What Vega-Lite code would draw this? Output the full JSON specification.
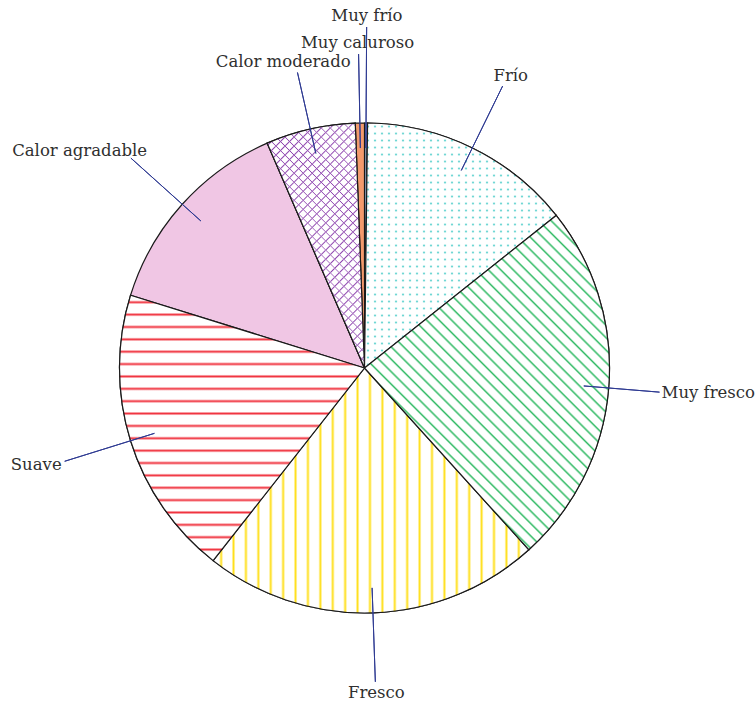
{
  "$schema": "https://vega.github.io/schema/vega-lite/v6.json",
  "autosize": "none",
  "padding": {"left": 0, "top": 35, "right": 26, "bottom": 0},
  "width": 729,
  "height": 666,
  "background": "white",
  "config": {"view": {"stroke": null}},
  "data": {
    "values": [
      {"category": "Muy frío", "value": 0.2},
      {"category": "Frío", "value": 14.1},
      {"category": "Muy fresco", "value": 24.0},
      {"category": "Fresco", "value": 22.3},
      {"category": "Suave", "value": 19.2},
      {"category": "Calor agradable", "value": 13.7},
      {"category": "Calor moderado", "value": 5.9},
      {"category": "Muy caluroso", "value": 0.6}
    ]
  },
  "transform": [
    {"stack": "value", "groupby": [], "as": ["start", "end"], "offset": "normalize"},
    {"calculate": "(datum.start + datum.end) / 2", "as": "mid"}
  ],
  "layer": [
    {
      "mark": {"type": "arc", "radius": 245, "stroke": "#1a1a1a", "strokeWidth": 1.2},
      "encoding": {
        "theta": {"field": "start", "type": "quantitative", "scale": {"domain": [0, 1], "range": [0, 6.283185307179586]}},
        "theta2": {"field": "end"},
        "color": {
          "field": "category",
          "type": "nominal",
          "legend": null,
          "scale": {
            "domain": ["Muy frío", "Frío", "Muy fresco", "Fresco", "Suave", "Calor agradable", "Calor moderado", "Muy caluroso"],
            "range": ["#93a6c4", "#ffffff", "#ffffff", "#ffffff", "#ffffff", "#f0c6e4", "#ffffff", "#f39a6c"]
          }
        }
      }
    },
    {
      "transform": [{"filter": "datum.category === 'Frío'"}],
      "mark": {
        "type": "arc", "radius": 245, "strokeWidth": 0,
        "fill": {"gradient": "linear", "x1": 0, "y1": 0, "x2": 0, "y2": 1, "stops": [
          {"offset": 0, "color": "#ffffff"},
          {"offset": 0.0078, "color": "#ffffff"}, {"offset": 0.0143, "color": "#2ec4c0"}, {"offset": 0.0208, "color": "#ffffff"},
          {"offset": 0.0364, "color": "#ffffff"}, {"offset": 0.0429, "color": "#2ec4c0"}, {"offset": 0.0494, "color": "#ffffff"},
          {"offset": 0.0649, "color": "#ffffff"}, {"offset": 0.0714, "color": "#2ec4c0"}, {"offset": 0.0779, "color": "#ffffff"},
          {"offset": 0.0935, "color": "#ffffff"}, {"offset": 0.1000, "color": "#2ec4c0"}, {"offset": 0.1065, "color": "#ffffff"},
          {"offset": 0.1221, "color": "#ffffff"}, {"offset": 0.1286, "color": "#2ec4c0"}, {"offset": 0.1351, "color": "#ffffff"},
          {"offset": 0.1507, "color": "#ffffff"}, {"offset": 0.1572, "color": "#2ec4c0"}, {"offset": 0.1637, "color": "#ffffff"},
          {"offset": 0.1792, "color": "#ffffff"}, {"offset": 0.1857, "color": "#2ec4c0"}, {"offset": 0.1922, "color": "#ffffff"},
          {"offset": 0.2078, "color": "#ffffff"}, {"offset": 0.2143, "color": "#2ec4c0"}, {"offset": 0.2208, "color": "#ffffff"},
          {"offset": 0.2364, "color": "#ffffff"}, {"offset": 0.2429, "color": "#2ec4c0"}, {"offset": 0.2494, "color": "#ffffff"},
          {"offset": 0.2649, "color": "#ffffff"}, {"offset": 0.2714, "color": "#2ec4c0"}, {"offset": 0.2779, "color": "#ffffff"},
          {"offset": 0.2935, "color": "#ffffff"}, {"offset": 0.3000, "color": "#2ec4c0"}, {"offset": 0.3065, "color": "#ffffff"},
          {"offset": 0.3221, "color": "#ffffff"}, {"offset": 0.3286, "color": "#2ec4c0"}, {"offset": 0.3351, "color": "#ffffff"},
          {"offset": 0.3507, "color": "#ffffff"}, {"offset": 0.3572, "color": "#2ec4c0"}, {"offset": 0.3637, "color": "#ffffff"},
          {"offset": 0.3792, "color": "#ffffff"}, {"offset": 0.3857, "color": "#2ec4c0"}, {"offset": 0.3922, "color": "#ffffff"},
          {"offset": 0.4078, "color": "#ffffff"}, {"offset": 0.4143, "color": "#2ec4c0"}, {"offset": 0.4208, "color": "#ffffff"},
          {"offset": 0.4364, "color": "#ffffff"}, {"offset": 0.4429, "color": "#2ec4c0"}, {"offset": 0.4494, "color": "#ffffff"},
          {"offset": 0.4649, "color": "#ffffff"}, {"offset": 0.4714, "color": "#2ec4c0"}, {"offset": 0.4779, "color": "#ffffff"},
          {"offset": 0.4935, "color": "#ffffff"}, {"offset": 0.5000, "color": "#2ec4c0"}, {"offset": 0.5065, "color": "#ffffff"},
          {"offset": 0.5221, "color": "#ffffff"}, {"offset": 0.5286, "color": "#2ec4c0"}, {"offset": 0.5351, "color": "#ffffff"},
          {"offset": 0.5506, "color": "#ffffff"}, {"offset": 0.5571, "color": "#2ec4c0"}, {"offset": 0.5636, "color": "#ffffff"},
          {"offset": 0.5792, "color": "#ffffff"}, {"offset": 0.5857, "color": "#2ec4c0"}, {"offset": 0.5922, "color": "#ffffff"},
          {"offset": 0.6078, "color": "#ffffff"}, {"offset": 0.6143, "color": "#2ec4c0"}, {"offset": 0.6208, "color": "#ffffff"},
          {"offset": 0.6364, "color": "#ffffff"}, {"offset": 0.6429, "color": "#2ec4c0"}, {"offset": 0.6494, "color": "#ffffff"},
          {"offset": 0.6649, "color": "#ffffff"}, {"offset": 0.6714, "color": "#2ec4c0"}, {"offset": 0.6779, "color": "#ffffff"},
          {"offset": 0.6935, "color": "#ffffff"}, {"offset": 0.7000, "color": "#2ec4c0"}, {"offset": 0.7065, "color": "#ffffff"},
          {"offset": 0.7221, "color": "#ffffff"}, {"offset": 0.7286, "color": "#2ec4c0"}, {"offset": 0.7351, "color": "#ffffff"},
          {"offset": 0.7506, "color": "#ffffff"}, {"offset": 0.7571, "color": "#2ec4c0"}, {"offset": 0.7636, "color": "#ffffff"},
          {"offset": 0.7792, "color": "#ffffff"}, {"offset": 0.7857, "color": "#2ec4c0"}, {"offset": 0.7922, "color": "#ffffff"},
          {"offset": 0.8078, "color": "#ffffff"}, {"offset": 0.8143, "color": "#2ec4c0"}, {"offset": 0.8208, "color": "#ffffff"},
          {"offset": 0.8364, "color": "#ffffff"}, {"offset": 0.8429, "color": "#2ec4c0"}, {"offset": 0.8494, "color": "#ffffff"},
          {"offset": 0.8649, "color": "#ffffff"}, {"offset": 0.8714, "color": "#2ec4c0"}, {"offset": 0.8779, "color": "#ffffff"},
          {"offset": 0.8935, "color": "#ffffff"}, {"offset": 0.9000, "color": "#2ec4c0"}, {"offset": 0.9065, "color": "#ffffff"},
          {"offset": 0.9221, "color": "#ffffff"}, {"offset": 0.9286, "color": "#2ec4c0"}, {"offset": 0.9351, "color": "#ffffff"},
          {"offset": 0.9506, "color": "#ffffff"}, {"offset": 0.9571, "color": "#2ec4c0"}, {"offset": 0.9636, "color": "#ffffff"},
          {"offset": 0.9792, "color": "#ffffff"}, {"offset": 0.9857, "color": "#2ec4c0"}, {"offset": 0.9922, "color": "#ffffff"},
          {"offset": 1, "color": "#ffffff"}
        ]}
      },
      "encoding": {
        "theta": {"field": "start", "type": "quantitative", "scale": {"domain": [0, 1], "range": [0, 6.283185307179586]}},
        "theta2": {"field": "end"}
      }
    },
    {
      "transform": [{"filter": "datum.category === 'Frío'"}],
      "mark": {
        "type": "arc", "radius": 245, "stroke": "#1a1a1a", "strokeWidth": 1.2,
        "fill": {"gradient": "linear", "x1": 0, "y1": 0, "x2": 1, "y2": 0, "stops": [
          {"offset": 0, "color": "#ffffff"},
          {"offset": 0.0100, "color": "#ffffff"}, {"offset": 0.0183, "color": "rgba(255,255,255,0)"}, {"offset": 0.0266, "color": "#ffffff"},
          {"offset": 0.0465, "color": "#ffffff"}, {"offset": 0.0548, "color": "rgba(255,255,255,0)"}, {"offset": 0.0631, "color": "#ffffff"},
          {"offset": 0.0830, "color": "#ffffff"}, {"offset": 0.0913, "color": "rgba(255,255,255,0)"}, {"offset": 0.0996, "color": "#ffffff"},
          {"offset": 0.1195, "color": "#ffffff"}, {"offset": 0.1278, "color": "rgba(255,255,255,0)"}, {"offset": 0.1361, "color": "#ffffff"},
          {"offset": 0.1561, "color": "#ffffff"}, {"offset": 0.1644, "color": "rgba(255,255,255,0)"}, {"offset": 0.1727, "color": "#ffffff"},
          {"offset": 0.1926, "color": "#ffffff"}, {"offset": 0.2009, "color": "rgba(255,255,255,0)"}, {"offset": 0.2092, "color": "#ffffff"},
          {"offset": 0.2291, "color": "#ffffff"}, {"offset": 0.2374, "color": "rgba(255,255,255,0)"}, {"offset": 0.2457, "color": "#ffffff"},
          {"offset": 0.2656, "color": "#ffffff"}, {"offset": 0.2739, "color": "rgba(255,255,255,0)"}, {"offset": 0.2822, "color": "#ffffff"},
          {"offset": 0.3021, "color": "#ffffff"}, {"offset": 0.3104, "color": "rgba(255,255,255,0)"}, {"offset": 0.3187, "color": "#ffffff"},
          {"offset": 0.3386, "color": "#ffffff"}, {"offset": 0.3469, "color": "rgba(255,255,255,0)"}, {"offset": 0.3552, "color": "#ffffff"},
          {"offset": 0.3752, "color": "#ffffff"}, {"offset": 0.3835, "color": "rgba(255,255,255,0)"}, {"offset": 0.3918, "color": "#ffffff"},
          {"offset": 0.4117, "color": "#ffffff"}, {"offset": 0.4200, "color": "rgba(255,255,255,0)"}, {"offset": 0.4283, "color": "#ffffff"},
          {"offset": 0.4482, "color": "#ffffff"}, {"offset": 0.4565, "color": "rgba(255,255,255,0)"}, {"offset": 0.4648, "color": "#ffffff"},
          {"offset": 0.4847, "color": "#ffffff"}, {"offset": 0.4930, "color": "rgba(255,255,255,0)"}, {"offset": 0.5013, "color": "#ffffff"},
          {"offset": 0.5212, "color": "#ffffff"}, {"offset": 0.5295, "color": "rgba(255,255,255,0)"}, {"offset": 0.5378, "color": "#ffffff"},
          {"offset": 0.5577, "color": "#ffffff"}, {"offset": 0.5660, "color": "rgba(255,255,255,0)"}, {"offset": 0.5743, "color": "#ffffff"},
          {"offset": 0.5942, "color": "#ffffff"}, {"offset": 0.6025, "color": "rgba(255,255,255,0)"}, {"offset": 0.6108, "color": "#ffffff"},
          {"offset": 0.6308, "color": "#ffffff"}, {"offset": 0.6391, "color": "rgba(255,255,255,0)"}, {"offset": 0.6474, "color": "#ffffff"},
          {"offset": 0.6673, "color": "#ffffff"}, {"offset": 0.6756, "color": "rgba(255,255,255,0)"}, {"offset": 0.6839, "color": "#ffffff"},
          {"offset": 0.7038, "color": "#ffffff"}, {"offset": 0.7121, "color": "rgba(255,255,255,0)"}, {"offset": 0.7204, "color": "#ffffff"},
          {"offset": 0.7403, "color": "#ffffff"}, {"offset": 0.7486, "color": "rgba(255,255,255,0)"}, {"offset": 0.7569, "color": "#ffffff"},
          {"offset": 0.7768, "color": "#ffffff"}, {"offset": 0.7851, "color": "rgba(255,255,255,0)"}, {"offset": 0.7934, "color": "#ffffff"},
          {"offset": 0.8133, "color": "#ffffff"}, {"offset": 0.8216, "color": "rgba(255,255,255,0)"}, {"offset": 0.8299, "color": "#ffffff"},
          {"offset": 0.8498, "color": "#ffffff"}, {"offset": 0.8581, "color": "rgba(255,255,255,0)"}, {"offset": 0.8664, "color": "#ffffff"},
          {"offset": 0.8864, "color": "#ffffff"}, {"offset": 0.8947, "color": "rgba(255,255,255,0)"}, {"offset": 0.9030, "color": "#ffffff"},
          {"offset": 0.9229, "color": "#ffffff"}, {"offset": 0.9312, "color": "rgba(255,255,255,0)"}, {"offset": 0.9395, "color": "#ffffff"},
          {"offset": 0.9594, "color": "#ffffff"}, {"offset": 0.9677, "color": "rgba(255,255,255,0)"}, {"offset": 0.9760, "color": "#ffffff"},
          {"offset": 1, "color": "#ffffff"}
        ]}
      },
      "encoding": {
        "theta": {"field": "start", "type": "quantitative", "scale": {"domain": [0, 1], "range": [0, 6.283185307179586]}},
        "theta2": {"field": "end"}
      }
    },
    {
      "transform": [{"filter": "datum.category === 'Calor moderado'"}],
      "mark": {
        "type": "arc", "radius": 245, "strokeWidth": 0,
        "fill": {"gradient": "linear", "x1": 0, "y1": 0, "x2": 0.4797, "y2": 1.2068, "stops": [
          {"offset": 0, "color": "#ffffff"},
          {"offset": 0.0089, "color": "#ffffff"}, {"offset": 0.0130, "color": "#9048b0"}, {"offset": 0.0171, "color": "#ffffff"},
          {"offset": 0.0354, "color": "#ffffff"}, {"offset": 0.0395, "color": "#9048b0"}, {"offset": 0.0436, "color": "#ffffff"},
          {"offset": 0.0618, "color": "#ffffff"}, {"offset": 0.0659, "color": "#9048b0"}, {"offset": 0.0700, "color": "#ffffff"},
          {"offset": 0.0883, "color": "#ffffff"}, {"offset": 0.0924, "color": "#9048b0"}, {"offset": 0.0965, "color": "#ffffff"},
          {"offset": 0.1147, "color": "#ffffff"}, {"offset": 0.1188, "color": "#9048b0"}, {"offset": 0.1229, "color": "#ffffff"},
          {"offset": 0.1412, "color": "#ffffff"}, {"offset": 0.1453, "color": "#9048b0"}, {"offset": 0.1494, "color": "#ffffff"},
          {"offset": 0.1676, "color": "#ffffff"}, {"offset": 0.1717, "color": "#9048b0"}, {"offset": 0.1758, "color": "#ffffff"},
          {"offset": 0.1941, "color": "#ffffff"}, {"offset": 0.1982, "color": "#9048b0"}, {"offset": 0.2023, "color": "#ffffff"},
          {"offset": 0.2206, "color": "#ffffff"}, {"offset": 0.2247, "color": "#9048b0"}, {"offset": 0.2288, "color": "#ffffff"},
          {"offset": 0.2470, "color": "#ffffff"}, {"offset": 0.2511, "color": "#9048b0"}, {"offset": 0.2552, "color": "#ffffff"},
          {"offset": 0.2735, "color": "#ffffff"}, {"offset": 0.2776, "color": "#9048b0"}, {"offset": 0.2817, "color": "#ffffff"},
          {"offset": 0.2999, "color": "#ffffff"}, {"offset": 0.3040, "color": "#9048b0"}, {"offset": 0.3081, "color": "#ffffff"},
          {"offset": 0.3264, "color": "#ffffff"}, {"offset": 0.3305, "color": "#9048b0"}, {"offset": 0.3346, "color": "#ffffff"},
          {"offset": 0.3528, "color": "#ffffff"}, {"offset": 0.3569, "color": "#9048b0"}, {"offset": 0.3610, "color": "#ffffff"},
          {"offset": 0.3793, "color": "#ffffff"}, {"offset": 0.3834, "color": "#9048b0"}, {"offset": 0.3875, "color": "#ffffff"},
          {"offset": 0.4058, "color": "#ffffff"}, {"offset": 0.4099, "color": "#9048b0"}, {"offset": 0.4140, "color": "#ffffff"},
          {"offset": 0.4322, "color": "#ffffff"}, {"offset": 0.4363, "color": "#9048b0"}, {"offset": 0.4404, "color": "#ffffff"},
          {"offset": 0.4587, "color": "#ffffff"}, {"offset": 0.4628, "color": "#9048b0"}, {"offset": 0.4669, "color": "#ffffff"},
          {"offset": 0.4851, "color": "#ffffff"}, {"offset": 0.4892, "color": "#9048b0"}, {"offset": 0.4933, "color": "#ffffff"},
          {"offset": 0.5116, "color": "#ffffff"}, {"offset": 0.5157, "color": "#9048b0"}, {"offset": 0.5198, "color": "#ffffff"},
          {"offset": 0.5380, "color": "#ffffff"}, {"offset": 0.5421, "color": "#9048b0"}, {"offset": 0.5462, "color": "#ffffff"},
          {"offset": 0.5645, "color": "#ffffff"}, {"offset": 0.5686, "color": "#9048b0"}, {"offset": 0.5727, "color": "#ffffff"},
          {"offset": 0.5910, "color": "#ffffff"}, {"offset": 0.5951, "color": "#9048b0"}, {"offset": 0.5992, "color": "#ffffff"},
          {"offset": 0.6174, "color": "#ffffff"}, {"offset": 0.6215, "color": "#9048b0"}, {"offset": 0.6256, "color": "#ffffff"},
          {"offset": 0.6439, "color": "#ffffff"}, {"offset": 0.6480, "color": "#9048b0"}, {"offset": 0.6521, "color": "#ffffff"},
          {"offset": 0.6703, "color": "#ffffff"}, {"offset": 0.6744, "color": "#9048b0"}, {"offset": 0.6785, "color": "#ffffff"},
          {"offset": 0.6968, "color": "#ffffff"}, {"offset": 0.7009, "color": "#9048b0"}, {"offset": 0.7050, "color": "#ffffff"},
          {"offset": 0.7232, "color": "#ffffff"}, {"offset": 0.7273, "color": "#9048b0"}, {"offset": 0.7314, "color": "#ffffff"},
          {"offset": 0.7497, "color": "#ffffff"}, {"offset": 0.7538, "color": "#9048b0"}, {"offset": 0.7579, "color": "#ffffff"},
          {"offset": 0.7762, "color": "#ffffff"}, {"offset": 0.7803, "color": "#9048b0"}, {"offset": 0.7844, "color": "#ffffff"},
          {"offset": 0.8026, "color": "#ffffff"}, {"offset": 0.8067, "color": "#9048b0"}, {"offset": 0.8108, "color": "#ffffff"},
          {"offset": 0.8291, "color": "#ffffff"}, {"offset": 0.8332, "color": "#9048b0"}, {"offset": 0.8373, "color": "#ffffff"},
          {"offset": 0.8555, "color": "#ffffff"}, {"offset": 0.8596, "color": "#9048b0"}, {"offset": 0.8637, "color": "#ffffff"},
          {"offset": 0.8820, "color": "#ffffff"}, {"offset": 0.8861, "color": "#9048b0"}, {"offset": 0.8902, "color": "#ffffff"},
          {"offset": 0.9084, "color": "#ffffff"}, {"offset": 0.9125, "color": "#9048b0"}, {"offset": 0.9166, "color": "#ffffff"},
          {"offset": 0.9349, "color": "#ffffff"}, {"offset": 0.9390, "color": "#9048b0"}, {"offset": 0.9431, "color": "#ffffff"},
          {"offset": 0.9614, "color": "#ffffff"}, {"offset": 0.9655, "color": "#9048b0"}, {"offset": 0.9696, "color": "#ffffff"},
          {"offset": 0.9878, "color": "#ffffff"}, {"offset": 0.9919, "color": "#9048b0"}, {"offset": 0.9960, "color": "#ffffff"},
          {"offset": 1, "color": "#ffffff"}
        ]}
      },
      "encoding": {
        "theta": {"field": "start", "type": "quantitative", "scale": {"domain": [0, 1], "range": [0, 6.283185307179586]}},
        "theta2": {"field": "end"}
      }
    },
    {
      "transform": [{"filter": "datum.category === 'Calor moderado'"}],
      "mark": {
        "type": "arc", "radius": 245, "stroke": "#1a1a1a", "strokeWidth": 1.2,
        "fill": {"gradient": "linear", "x1": 0, "y1": 1, "x2": 0.4797, "y2": -0.2068, "stops": [
          {"offset": 0, "color": "rgba(255,255,255,0)"},
          {"offset": 0.0089, "color": "rgba(255,255,255,0)"}, {"offset": 0.0130, "color": "#9048b0"}, {"offset": 0.0171, "color": "rgba(255,255,255,0)"},
          {"offset": 0.0354, "color": "rgba(255,255,255,0)"}, {"offset": 0.0395, "color": "#9048b0"}, {"offset": 0.0436, "color": "rgba(255,255,255,0)"},
          {"offset": 0.0618, "color": "rgba(255,255,255,0)"}, {"offset": 0.0659, "color": "#9048b0"}, {"offset": 0.0700, "color": "rgba(255,255,255,0)"},
          {"offset": 0.0883, "color": "rgba(255,255,255,0)"}, {"offset": 0.0924, "color": "#9048b0"}, {"offset": 0.0965, "color": "rgba(255,255,255,0)"},
          {"offset": 0.1147, "color": "rgba(255,255,255,0)"}, {"offset": 0.1188, "color": "#9048b0"}, {"offset": 0.1229, "color": "rgba(255,255,255,0)"},
          {"offset": 0.1412, "color": "rgba(255,255,255,0)"}, {"offset": 0.1453, "color": "#9048b0"}, {"offset": 0.1494, "color": "rgba(255,255,255,0)"},
          {"offset": 0.1676, "color": "rgba(255,255,255,0)"}, {"offset": 0.1717, "color": "#9048b0"}, {"offset": 0.1758, "color": "rgba(255,255,255,0)"},
          {"offset": 0.1941, "color": "rgba(255,255,255,0)"}, {"offset": 0.1982, "color": "#9048b0"}, {"offset": 0.2023, "color": "rgba(255,255,255,0)"},
          {"offset": 0.2206, "color": "rgba(255,255,255,0)"}, {"offset": 0.2247, "color": "#9048b0"}, {"offset": 0.2288, "color": "rgba(255,255,255,0)"},
          {"offset": 0.2470, "color": "rgba(255,255,255,0)"}, {"offset": 0.2511, "color": "#9048b0"}, {"offset": 0.2552, "color": "rgba(255,255,255,0)"},
          {"offset": 0.2735, "color": "rgba(255,255,255,0)"}, {"offset": 0.2776, "color": "#9048b0"}, {"offset": 0.2817, "color": "rgba(255,255,255,0)"},
          {"offset": 0.2999, "color": "rgba(255,255,255,0)"}, {"offset": 0.3040, "color": "#9048b0"}, {"offset": 0.3081, "color": "rgba(255,255,255,0)"},
          {"offset": 0.3264, "color": "rgba(255,255,255,0)"}, {"offset": 0.3305, "color": "#9048b0"}, {"offset": 0.3346, "color": "rgba(255,255,255,0)"},
          {"offset": 0.3528, "color": "rgba(255,255,255,0)"}, {"offset": 0.3569, "color": "#9048b0"}, {"offset": 0.3610, "color": "rgba(255,255,255,0)"},
          {"offset": 0.3793, "color": "rgba(255,255,255,0)"}, {"offset": 0.3834, "color": "#9048b0"}, {"offset": 0.3875, "color": "rgba(255,255,255,0)"},
          {"offset": 0.4058, "color": "rgba(255,255,255,0)"}, {"offset": 0.4099, "color": "#9048b0"}, {"offset": 0.4140, "color": "rgba(255,255,255,0)"},
          {"offset": 0.4322, "color": "rgba(255,255,255,0)"}, {"offset": 0.4363, "color": "#9048b0"}, {"offset": 0.4404, "color": "rgba(255,255,255,0)"},
          {"offset": 0.4587, "color": "rgba(255,255,255,0)"}, {"offset": 0.4628, "color": "#9048b0"}, {"offset": 0.4669, "color": "rgba(255,255,255,0)"},
          {"offset": 0.4851, "color": "rgba(255,255,255,0)"}, {"offset": 0.4892, "color": "#9048b0"}, {"offset": 0.4933, "color": "rgba(255,255,255,0)"},
          {"offset": 0.5116, "color": "rgba(255,255,255,0)"}, {"offset": 0.5157, "color": "#9048b0"}, {"offset": 0.5198, "color": "rgba(255,255,255,0)"},
          {"offset": 0.5380, "color": "rgba(255,255,255,0)"}, {"offset": 0.5421, "color": "#9048b0"}, {"offset": 0.5462, "color": "rgba(255,255,255,0)"},
          {"offset": 0.5645, "color": "rgba(255,255,255,0)"}, {"offset": 0.5686, "color": "#9048b0"}, {"offset": 0.5727, "color": "rgba(255,255,255,0)"},
          {"offset": 0.5910, "color": "rgba(255,255,255,0)"}, {"offset": 0.5951, "color": "#9048b0"}, {"offset": 0.5992, "color": "rgba(255,255,255,0)"},
          {"offset": 0.6174, "color": "rgba(255,255,255,0)"}, {"offset": 0.6215, "color": "#9048b0"}, {"offset": 0.6256, "color": "rgba(255,255,255,0)"},
          {"offset": 0.6439, "color": "rgba(255,255,255,0)"}, {"offset": 0.6480, "color": "#9048b0"}, {"offset": 0.6521, "color": "rgba(255,255,255,0)"},
          {"offset": 0.6703, "color": "rgba(255,255,255,0)"}, {"offset": 0.6744, "color": "#9048b0"}, {"offset": 0.6785, "color": "rgba(255,255,255,0)"},
          {"offset": 0.6968, "color": "rgba(255,255,255,0)"}, {"offset": 0.7009, "color": "#9048b0"}, {"offset": 0.7050, "color": "rgba(255,255,255,0)"},
          {"offset": 0.7232, "color": "rgba(255,255,255,0)"}, {"offset": 0.7273, "color": "#9048b0"}, {"offset": 0.7314, "color": "rgba(255,255,255,0)"},
          {"offset": 0.7497, "color": "rgba(255,255,255,0)"}, {"offset": 0.7538, "color": "#9048b0"}, {"offset": 0.7579, "color": "rgba(255,255,255,0)"},
          {"offset": 0.7762, "color": "rgba(255,255,255,0)"}, {"offset": 0.7803, "color": "#9048b0"}, {"offset": 0.7844, "color": "rgba(255,255,255,0)"},
          {"offset": 0.8026, "color": "rgba(255,255,255,0)"}, {"offset": 0.8067, "color": "#9048b0"}, {"offset": 0.8108, "color": "rgba(255,255,255,0)"},
          {"offset": 0.8291, "color": "rgba(255,255,255,0)"}, {"offset": 0.8332, "color": "#9048b0"}, {"offset": 0.8373, "color": "rgba(255,255,255,0)"},
          {"offset": 0.8555, "color": "rgba(255,255,255,0)"}, {"offset": 0.8596, "color": "#9048b0"}, {"offset": 0.8637, "color": "rgba(255,255,255,0)"},
          {"offset": 0.8820, "color": "rgba(255,255,255,0)"}, {"offset": 0.8861, "color": "#9048b0"}, {"offset": 0.8902, "color": "rgba(255,255,255,0)"},
          {"offset": 0.9084, "color": "rgba(255,255,255,0)"}, {"offset": 0.9125, "color": "#9048b0"}, {"offset": 0.9166, "color": "rgba(255,255,255,0)"},
          {"offset": 0.9349, "color": "rgba(255,255,255,0)"}, {"offset": 0.9390, "color": "#9048b0"}, {"offset": 0.9431, "color": "rgba(255,255,255,0)"},
          {"offset": 0.9614, "color": "rgba(255,255,255,0)"}, {"offset": 0.9655, "color": "#9048b0"}, {"offset": 0.9696, "color": "rgba(255,255,255,0)"},
          {"offset": 0.9878, "color": "rgba(255,255,255,0)"}, {"offset": 0.9919, "color": "#9048b0"}, {"offset": 0.9960, "color": "rgba(255,255,255,0)"},
          {"offset": 1, "color": "rgba(255,255,255,0)"}
        ]}
      },
      "encoding": {
        "theta": {"field": "start", "type": "quantitative", "scale": {"domain": [0, 1], "range": [0, 6.283185307179586]}},
        "theta2": {"field": "end"}
      }
    },
    {
      "transform": [{"filter": "datum.category === 'Fresco'"}],
      "mark": {
        "type": "arc", "radius": 245, "stroke": "#1a1a1a", "strokeWidth": 1.2,
        "fill": {"gradient": "linear", "x1": 0, "y1": 0, "x2": 1, "y2": 0, "stops": [
          {"offset": 0, "color": "#ffffff"},
          {"offset": 0.0190, "color": "#ffffff"}, {"offset": 0.0254, "color": "#ffdf1a"}, {"offset": 0.0317, "color": "#ffffff"},
          {"offset": 0.0583, "color": "#ffffff"}, {"offset": 0.0646, "color": "#ffdf1a"}, {"offset": 0.0710, "color": "#ffffff"},
          {"offset": 0.0976, "color": "#ffffff"}, {"offset": 0.1039, "color": "#ffdf1a"}, {"offset": 0.1103, "color": "#ffffff"},
          {"offset": 0.1369, "color": "#ffffff"}, {"offset": 0.1432, "color": "#ffdf1a"}, {"offset": 0.1496, "color": "#ffffff"},
          {"offset": 0.1762, "color": "#ffffff"}, {"offset": 0.1825, "color": "#ffdf1a"}, {"offset": 0.1889, "color": "#ffffff"},
          {"offset": 0.2155, "color": "#ffffff"}, {"offset": 0.2218, "color": "#ffdf1a"}, {"offset": 0.2281, "color": "#ffffff"},
          {"offset": 0.2548, "color": "#ffffff"}, {"offset": 0.2611, "color": "#ffdf1a"}, {"offset": 0.2674, "color": "#ffffff"},
          {"offset": 0.2940, "color": "#ffffff"}, {"offset": 0.3004, "color": "#ffdf1a"}, {"offset": 0.3067, "color": "#ffffff"},
          {"offset": 0.3333, "color": "#ffffff"}, {"offset": 0.3397, "color": "#ffdf1a"}, {"offset": 0.3460, "color": "#ffffff"},
          {"offset": 0.3726, "color": "#ffffff"}, {"offset": 0.3790, "color": "#ffdf1a"}, {"offset": 0.3853, "color": "#ffffff"},
          {"offset": 0.4119, "color": "#ffffff"}, {"offset": 0.4183, "color": "#ffdf1a"}, {"offset": 0.4246, "color": "#ffffff"},
          {"offset": 0.4512, "color": "#ffffff"}, {"offset": 0.4575, "color": "#ffdf1a"}, {"offset": 0.4639, "color": "#ffffff"},
          {"offset": 0.4905, "color": "#ffffff"}, {"offset": 0.4968, "color": "#ffdf1a"}, {"offset": 0.5032, "color": "#ffffff"},
          {"offset": 0.5298, "color": "#ffffff"}, {"offset": 0.5361, "color": "#ffdf1a"}, {"offset": 0.5425, "color": "#ffffff"},
          {"offset": 0.5691, "color": "#ffffff"}, {"offset": 0.5754, "color": "#ffdf1a"}, {"offset": 0.5817, "color": "#ffffff"},
          {"offset": 0.6084, "color": "#ffffff"}, {"offset": 0.6147, "color": "#ffdf1a"}, {"offset": 0.6210, "color": "#ffffff"},
          {"offset": 0.6477, "color": "#ffffff"}, {"offset": 0.6540, "color": "#ffdf1a"}, {"offset": 0.6603, "color": "#ffffff"},
          {"offset": 0.6870, "color": "#ffffff"}, {"offset": 0.6933, "color": "#ffdf1a"}, {"offset": 0.6996, "color": "#ffffff"},
          {"offset": 0.7263, "color": "#ffffff"}, {"offset": 0.7326, "color": "#ffdf1a"}, {"offset": 0.7389, "color": "#ffffff"},
          {"offset": 0.7655, "color": "#ffffff"}, {"offset": 0.7719, "color": "#ffdf1a"}, {"offset": 0.7782, "color": "#ffffff"},
          {"offset": 0.8048, "color": "#ffffff"}, {"offset": 0.8112, "color": "#ffdf1a"}, {"offset": 0.8175, "color": "#ffffff"},
          {"offset": 0.8441, "color": "#ffffff"}, {"offset": 0.8504, "color": "#ffdf1a"}, {"offset": 0.8568, "color": "#ffffff"},
          {"offset": 0.8834, "color": "#ffffff"}, {"offset": 0.8897, "color": "#ffdf1a"}, {"offset": 0.8961, "color": "#ffffff"},
          {"offset": 0.9227, "color": "#ffffff"}, {"offset": 0.9290, "color": "#ffdf1a"}, {"offset": 0.9354, "color": "#ffffff"},
          {"offset": 0.9620, "color": "#ffffff"}, {"offset": 0.9683, "color": "#ffdf1a"}, {"offset": 0.9746, "color": "#ffffff"},
          {"offset": 1, "color": "#ffffff"}
        ]}
      },
      "encoding": {
        "theta": {"field": "start", "type": "quantitative", "scale": {"domain": [0, 1], "range": [0, 6.283185307179586]}},
        "theta2": {"field": "end"}
      }
    },
    {
      "transform": [{"filter": "datum.category === 'Suave'"}],
      "mark": {
        "type": "arc", "radius": 245, "stroke": "#1a1a1a", "strokeWidth": 1.2,
        "fill": {"gradient": "linear", "x1": 0, "y1": 0, "x2": 0, "y2": 1, "stops": [
          {"offset": 0, "color": "#ffffff"},
          {"offset": 0.0190, "color": "#ffffff"}, {"offset": 0.0265, "color": "#f0303c"}, {"offset": 0.0340, "color": "#ffffff"},
          {"offset": 0.0656, "color": "#ffffff"}, {"offset": 0.0731, "color": "#f0303c"}, {"offset": 0.0806, "color": "#ffffff"},
          {"offset": 0.1122, "color": "#ffffff"}, {"offset": 0.1197, "color": "#f0303c"}, {"offset": 0.1272, "color": "#ffffff"},
          {"offset": 0.1588, "color": "#ffffff"}, {"offset": 0.1663, "color": "#f0303c"}, {"offset": 0.1738, "color": "#ffffff"},
          {"offset": 0.2053, "color": "#ffffff"}, {"offset": 0.2128, "color": "#f0303c"}, {"offset": 0.2204, "color": "#ffffff"},
          {"offset": 0.2519, "color": "#ffffff"}, {"offset": 0.2594, "color": "#f0303c"}, {"offset": 0.2670, "color": "#ffffff"},
          {"offset": 0.2985, "color": "#ffffff"}, {"offset": 0.3060, "color": "#f0303c"}, {"offset": 0.3136, "color": "#ffffff"},
          {"offset": 0.3451, "color": "#ffffff"}, {"offset": 0.3526, "color": "#f0303c"}, {"offset": 0.3601, "color": "#ffffff"},
          {"offset": 0.3917, "color": "#ffffff"}, {"offset": 0.3992, "color": "#f0303c"}, {"offset": 0.4067, "color": "#ffffff"},
          {"offset": 0.4383, "color": "#ffffff"}, {"offset": 0.4458, "color": "#f0303c"}, {"offset": 0.4533, "color": "#ffffff"},
          {"offset": 0.4849, "color": "#ffffff"}, {"offset": 0.4924, "color": "#f0303c"}, {"offset": 0.4999, "color": "#ffffff"},
          {"offset": 0.5315, "color": "#ffffff"}, {"offset": 0.5390, "color": "#f0303c"}, {"offset": 0.5465, "color": "#ffffff"},
          {"offset": 0.5781, "color": "#ffffff"}, {"offset": 0.5856, "color": "#f0303c"}, {"offset": 0.5931, "color": "#ffffff"},
          {"offset": 0.6247, "color": "#ffffff"}, {"offset": 0.6322, "color": "#f0303c"}, {"offset": 0.6397, "color": "#ffffff"},
          {"offset": 0.6713, "color": "#ffffff"}, {"offset": 0.6788, "color": "#f0303c"}, {"offset": 0.6863, "color": "#ffffff"},
          {"offset": 0.7178, "color": "#ffffff"}, {"offset": 0.7254, "color": "#f0303c"}, {"offset": 0.7329, "color": "#ffffff"},
          {"offset": 0.7644, "color": "#ffffff"}, {"offset": 0.7719, "color": "#f0303c"}, {"offset": 0.7795, "color": "#ffffff"},
          {"offset": 0.8110, "color": "#ffffff"}, {"offset": 0.8185, "color": "#f0303c"}, {"offset": 0.8261, "color": "#ffffff"},
          {"offset": 0.8576, "color": "#ffffff"}, {"offset": 0.8651, "color": "#f0303c"}, {"offset": 0.8726, "color": "#ffffff"},
          {"offset": 0.9042, "color": "#ffffff"}, {"offset": 0.9117, "color": "#f0303c"}, {"offset": 0.9192, "color": "#ffffff"},
          {"offset": 0.9508, "color": "#ffffff"}, {"offset": 0.9583, "color": "#f0303c"}, {"offset": 0.9658, "color": "#ffffff"},
          {"offset": 1, "color": "#ffffff"}
        ]}
      },
      "encoding": {
        "theta": {"field": "start", "type": "quantitative", "scale": {"domain": [0, 1], "range": [0, 6.283185307179586]}},
        "theta2": {"field": "end"}
      }
    },
    {
      "transform": [{"filter": "datum.category === 'Muy fresco'"}],
      "mark": {
        "type": "arc", "radius": 245, "stroke": "#1a1a1a", "strokeWidth": 1.2,
        "fill": {"gradient": "linear", "x1": 0, "y1": 1, "x2": 0.8255, "y2": -0.1277, "stops": [
          {"offset": 0, "color": "#ffffff"},
          {"offset": 0.0063, "color": "#ffffff"}, {"offset": 0.0100, "color": "#33bb66"}, {"offset": 0.0137, "color": "#ffffff"},
          {"offset": 0.0278, "color": "#ffffff"}, {"offset": 0.0315, "color": "#33bb66"}, {"offset": 0.0352, "color": "#ffffff"},
          {"offset": 0.0492, "color": "#ffffff"}, {"offset": 0.0529, "color": "#33bb66"}, {"offset": 0.0566, "color": "#ffffff"},
          {"offset": 0.0707, "color": "#ffffff"}, {"offset": 0.0744, "color": "#33bb66"}, {"offset": 0.0781, "color": "#ffffff"},
          {"offset": 0.0922, "color": "#ffffff"}, {"offset": 0.0959, "color": "#33bb66"}, {"offset": 0.0996, "color": "#ffffff"},
          {"offset": 0.1136, "color": "#ffffff"}, {"offset": 0.1173, "color": "#33bb66"}, {"offset": 0.1210, "color": "#ffffff"},
          {"offset": 0.1351, "color": "#ffffff"}, {"offset": 0.1388, "color": "#33bb66"}, {"offset": 0.1425, "color": "#ffffff"},
          {"offset": 0.1566, "color": "#ffffff"}, {"offset": 0.1603, "color": "#33bb66"}, {"offset": 0.1640, "color": "#ffffff"},
          {"offset": 0.1780, "color": "#ffffff"}, {"offset": 0.1817, "color": "#33bb66"}, {"offset": 0.1854, "color": "#ffffff"},
          {"offset": 0.1995, "color": "#ffffff"}, {"offset": 0.2032, "color": "#33bb66"}, {"offset": 0.2069, "color": "#ffffff"},
          {"offset": 0.2210, "color": "#ffffff"}, {"offset": 0.2247, "color": "#33bb66"}, {"offset": 0.2284, "color": "#ffffff"},
          {"offset": 0.2424, "color": "#ffffff"}, {"offset": 0.2461, "color": "#33bb66"}, {"offset": 0.2498, "color": "#ffffff"},
          {"offset": 0.2639, "color": "#ffffff"}, {"offset": 0.2676, "color": "#33bb66"}, {"offset": 0.2713, "color": "#ffffff"},
          {"offset": 0.2854, "color": "#ffffff"}, {"offset": 0.2891, "color": "#33bb66"}, {"offset": 0.2928, "color": "#ffffff"},
          {"offset": 0.3069, "color": "#ffffff"}, {"offset": 0.3106, "color": "#33bb66"}, {"offset": 0.3143, "color": "#ffffff"},
          {"offset": 0.3283, "color": "#ffffff"}, {"offset": 0.3320, "color": "#33bb66"}, {"offset": 0.3357, "color": "#ffffff"},
          {"offset": 0.3498, "color": "#ffffff"}, {"offset": 0.3535, "color": "#33bb66"}, {"offset": 0.3572, "color": "#ffffff"},
          {"offset": 0.3713, "color": "#ffffff"}, {"offset": 0.3750, "color": "#33bb66"}, {"offset": 0.3787, "color": "#ffffff"},
          {"offset": 0.3927, "color": "#ffffff"}, {"offset": 0.3964, "color": "#33bb66"}, {"offset": 0.4001, "color": "#ffffff"},
          {"offset": 0.4142, "color": "#ffffff"}, {"offset": 0.4179, "color": "#33bb66"}, {"offset": 0.4216, "color": "#ffffff"},
          {"offset": 0.4357, "color": "#ffffff"}, {"offset": 0.4394, "color": "#33bb66"}, {"offset": 0.4431, "color": "#ffffff"},
          {"offset": 0.4571, "color": "#ffffff"}, {"offset": 0.4608, "color": "#33bb66"}, {"offset": 0.4645, "color": "#ffffff"},
          {"offset": 0.4786, "color": "#ffffff"}, {"offset": 0.4823, "color": "#33bb66"}, {"offset": 0.4860, "color": "#ffffff"},
          {"offset": 0.5001, "color": "#ffffff"}, {"offset": 0.5038, "color": "#33bb66"}, {"offset": 0.5075, "color": "#ffffff"},
          {"offset": 0.5215, "color": "#ffffff"}, {"offset": 0.5252, "color": "#33bb66"}, {"offset": 0.5289, "color": "#ffffff"},
          {"offset": 0.5430, "color": "#ffffff"}, {"offset": 0.5467, "color": "#33bb66"}, {"offset": 0.5504, "color": "#ffffff"},
          {"offset": 0.5645, "color": "#ffffff"}, {"offset": 0.5682, "color": "#33bb66"}, {"offset": 0.5719, "color": "#ffffff"},
          {"offset": 0.5859, "color": "#ffffff"}, {"offset": 0.5896, "color": "#33bb66"}, {"offset": 0.5933, "color": "#ffffff"},
          {"offset": 0.6074, "color": "#ffffff"}, {"offset": 0.6111, "color": "#33bb66"}, {"offset": 0.6148, "color": "#ffffff"},
          {"offset": 0.6289, "color": "#ffffff"}, {"offset": 0.6326, "color": "#33bb66"}, {"offset": 0.6363, "color": "#ffffff"},
          {"offset": 0.6503, "color": "#ffffff"}, {"offset": 0.6540, "color": "#33bb66"}, {"offset": 0.6577, "color": "#ffffff"},
          {"offset": 0.6718, "color": "#ffffff"}, {"offset": 0.6755, "color": "#33bb66"}, {"offset": 0.6792, "color": "#ffffff"},
          {"offset": 0.6933, "color": "#ffffff"}, {"offset": 0.6970, "color": "#33bb66"}, {"offset": 0.7007, "color": "#ffffff"},
          {"offset": 0.7147, "color": "#ffffff"}, {"offset": 0.7184, "color": "#33bb66"}, {"offset": 0.7221, "color": "#ffffff"},
          {"offset": 0.7362, "color": "#ffffff"}, {"offset": 0.7399, "color": "#33bb66"}, {"offset": 0.7436, "color": "#ffffff"},
          {"offset": 0.7577, "color": "#ffffff"}, {"offset": 0.7614, "color": "#33bb66"}, {"offset": 0.7651, "color": "#ffffff"},
          {"offset": 0.7791, "color": "#ffffff"}, {"offset": 0.7828, "color": "#33bb66"}, {"offset": 0.7865, "color": "#ffffff"},
          {"offset": 0.8006, "color": "#ffffff"}, {"offset": 0.8043, "color": "#33bb66"}, {"offset": 0.8080, "color": "#ffffff"},
          {"offset": 0.8221, "color": "#ffffff"}, {"offset": 0.8258, "color": "#33bb66"}, {"offset": 0.8295, "color": "#ffffff"},
          {"offset": 0.8436, "color": "#ffffff"}, {"offset": 0.8473, "color": "#33bb66"}, {"offset": 0.8510, "color": "#ffffff"},
          {"offset": 0.8650, "color": "#ffffff"}, {"offset": 0.8687, "color": "#33bb66"}, {"offset": 0.8724, "color": "#ffffff"},
          {"offset": 0.8865, "color": "#ffffff"}, {"offset": 0.8902, "color": "#33bb66"}, {"offset": 0.8939, "color": "#ffffff"},
          {"offset": 0.9080, "color": "#ffffff"}, {"offset": 0.9117, "color": "#33bb66"}, {"offset": 0.9154, "color": "#ffffff"},
          {"offset": 0.9294, "color": "#ffffff"}, {"offset": 0.9331, "color": "#33bb66"}, {"offset": 0.9368, "color": "#ffffff"},
          {"offset": 0.9509, "color": "#ffffff"}, {"offset": 0.9546, "color": "#33bb66"}, {"offset": 0.9583, "color": "#ffffff"},
          {"offset": 0.9724, "color": "#ffffff"}, {"offset": 0.9761, "color": "#33bb66"}, {"offset": 0.9798, "color": "#ffffff"},
          {"offset": 1, "color": "#ffffff"}
        ]}
      },
      "encoding": {
        "theta": {"field": "start", "type": "quantitative", "scale": {"domain": [0, 1], "range": [0, 6.283185307179586]}},
        "theta2": {"field": "end"}
      }
    },
    {
      "mark": {
        "type": "arc",
        "filled": false,
        "stroke": "#2e3a92",
        "strokeWidth": 1,
        "radius": {"expr": "datum.category === 'Muy frío' ? 341 : datum.category === 'Muy fresco' ? 296 : datum.category === 'Calor moderado' ? 303 : 314"},
        "radius2": 220
      },
      "encoding": {
        "theta": {"field": "mid", "type": "quantitative", "scale": {"domain": [0, 1], "range": [0, 6.283185307179586]}},
        "theta2": {"field": "mid"}
      }
    },
    {
      "mark": {
        "type": "text",
        "font": "DejaVu Serif",
        "fontSize": 16.5,
        "fill": "#2f2f2f",
        "baseline": "middle",
        "radius": {"expr": "datum.category === 'Muy frío' ? 341 : datum.category === 'Muy fresco' ? 296 : datum.category === 'Calor moderado' ? 303 : 314"},
        "align": {"expr": "sin(datum.mid * 2 * PI) > 0.9 ? 'left' : sin(datum.mid * 2 * PI) < -0.9 ? 'right' : 'center'"},
        "dx": {"expr": "sin(datum.mid * 2 * PI) > 0.9 ? 2 : sin(datum.mid * 2 * PI) < -0.9 ? -3 : length(datum.category) * 4.6 * sin(datum.mid * 2 * PI)"},
        "dy": {"expr": "-11 * cos(datum.mid * 2 * PI)"}
      },
      "encoding": {
        "theta": {"field": "mid", "type": "quantitative", "scale": {"domain": [0, 1], "range": [0, 6.283185307179586]}},
        "text": {"field": "category"}
      }
    }
  ]
}
